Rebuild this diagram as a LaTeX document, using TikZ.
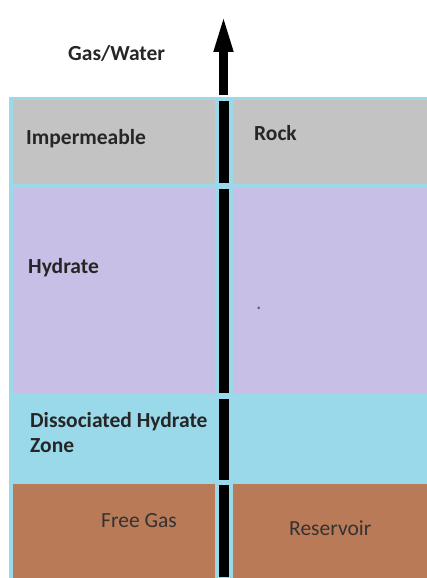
\documentclass[tikz,border=0pt]{standalone}
\usepackage{fontspec}
\setmainfont{Carlito}
\usepackage{tikz}
\usetikzlibrary{arrows.meta}
\definecolor{rockgray}{HTML}{C3C3C3}
\definecolor{hydratelilac}{HTML}{C8BFE7}
\definecolor{zonecyan}{HTML}{99D9EA}
\definecolor{gasbrown}{HTML}{B97A57}

\begin{document}
\begin{tikzpicture}[x=1pt,y=-1pt,
        layertext/.style={inner sep=0pt, anchor=base west, text=black!85, font=\fontsize{21.5}{26}\selectfont\bfseries},
        plaintext/.style={layertext, text=black!80, font=\fontsize{21.5}{26}\selectfont}]

        \useasboundingbox (0,0) rectangle (427,578);

        % frame and layers
        \fill[zonecyan] (9,97) rectangle (427,578);
        \foreach \top/\bot/\col in {100/184/rockgray, 188/394/hydratelilac, 398/481/zonecyan, 484/578/gasbrown} {
            \fill[\col] (13,\top) rectangle (215,\bot);
            \fill[\col] (233,\top) rectangle (427,\bot);
            \fill[black] (219,\top+1) rectangle (229,\bot-1);
        }

        % outflow
        \coordinate (wellhead) at (223.5,95);
        \coordinate (outlet) at (223.5,13);
        \draw[line width=9pt, -{Triangle[length=39pt,width=17pt]}] (wellhead) -- (outlet);

        \node[layertext] (gaswater) at (68,61) {Gas/Water};
        \node[layertext] (imperm) at (26,144) {Impermeable};
        \node[layertext] (rock) at (254,140) {Rock};
        \node[layertext] (hydrate) at (28,273) {Hydrate};
        \node[plaintext, text=black!60] (dot) at (256,309) {.};
        \node[layertext] (dissoc) at (30,427) {Dissociated Hydrate};
        \node[layertext] (zone) at (30,452) {Zone};
        \node[plaintext] (freegas) at (101,527) {Free Gas};
        \node[plaintext] (reservoir) at (289,535) {Reservoir};

    \end{tikzpicture}
\end{document}
